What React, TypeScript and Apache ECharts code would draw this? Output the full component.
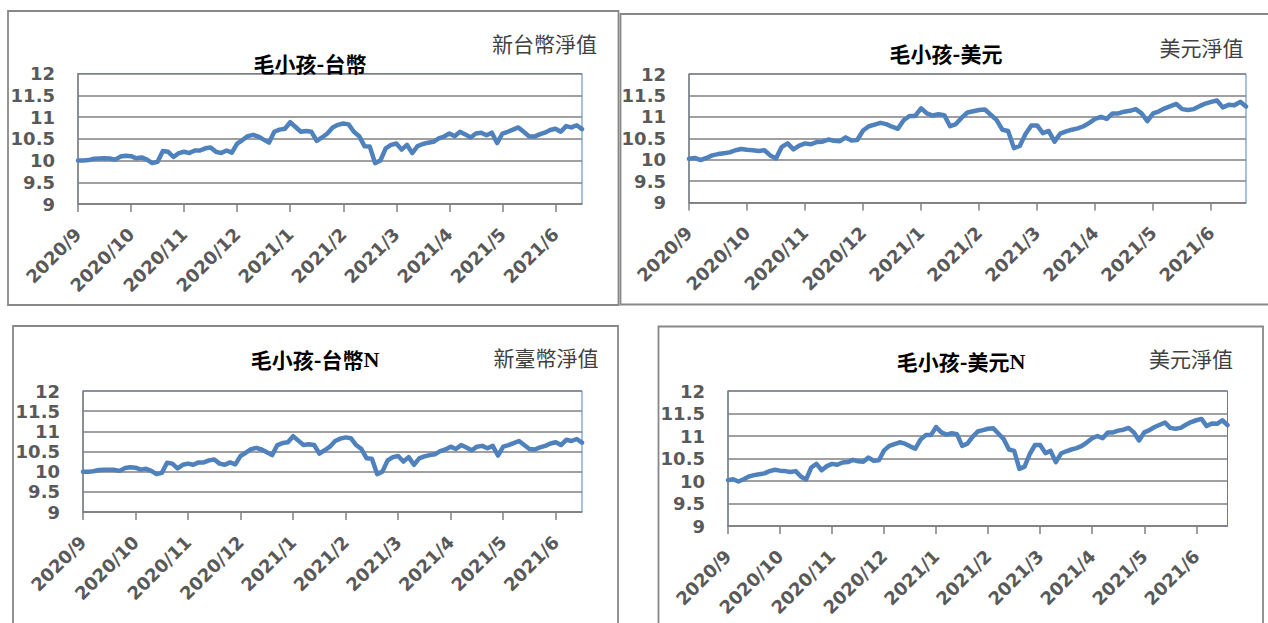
import React, { useEffect, useRef } from "react";
import * as echarts from "echarts";

// Month tick labels (x axis)
const monthLabels = ["2020/9", "2020/10", "2020/11", "2020/12", "2021/1", "2021/2", "2021/3", "2021/4", "2021/5", "2021/6"];
// Sampled days within each month (10 samples per month)
const sampleDays = [1, 4, 7, 10, 13, 16, 19, 22, 25, 28];

// NAV series
const navTWD = [
  10.0, 10.0, 10.01, 10.04, 10.045, 10.05, 10.045, 10.02, 10.09, 10.11,
  10.1, 10.05, 10.07, 10.02, 9.94, 9.97, 10.22, 10.2, 10.08, 10.17,
  10.2, 10.17, 10.23, 10.23, 10.28, 10.3, 10.2, 10.17, 10.23, 10.18,
  10.39, 10.47, 10.56, 10.59, 10.55, 10.48, 10.41, 10.66, 10.71, 10.73,
  10.88, 10.77, 10.66, 10.68, 10.66, 10.45, 10.53, 10.62, 10.76, 10.82,
  10.85, 10.83, 10.66, 10.56, 10.33, 10.32, 9.94, 10.0, 10.28, 10.36,
  10.39, 10.25, 10.36, 10.17, 10.33, 10.38, 10.41, 10.43, 10.51, 10.55,
  10.62, 10.56, 10.66, 10.6, 10.53, 10.62, 10.64, 10.58, 10.64, 10.4,
  10.62, 10.66, 10.71, 10.76, 10.66, 10.56, 10.55, 10.6, 10.64, 10.7,
  10.73, 10.66, 10.79, 10.76, 10.81, 10.72,
];
const navUSD = [
  10.02, 10.04, 9.99, 10.04, 10.1, 10.13, 10.15, 10.17, 10.22, 10.25,
  10.23, 10.22, 10.2, 10.22, 10.1, 10.03, 10.3, 10.38, 10.24, 10.33,
  10.38, 10.36, 10.41, 10.42, 10.47, 10.44, 10.43, 10.52, 10.45, 10.46,
  10.68, 10.78, 10.82, 10.86, 10.83, 10.77, 10.72, 10.92, 11.02, 11.02,
  11.2, 11.08, 11.03, 11.06, 11.04, 10.78, 10.83, 10.98, 11.1, 11.13,
  11.16, 11.17, 11.05, 10.93, 10.7, 10.67, 10.27, 10.32, 10.6, 10.8,
  10.8, 10.62, 10.67, 10.42, 10.61, 10.66, 10.7, 10.73, 10.78, 10.86,
  10.95, 11.0, 10.95, 11.08, 11.08, 11.12, 11.14, 11.18, 11.08, 10.9,
  11.08, 11.13, 11.2, 11.25, 11.3, 11.18, 11.16, 11.18, 11.25, 11.31,
  11.35, 11.38, 11.22, 11.28, 11.27, 11.35, 11.24,
];
const navTWDN = navTWD.slice();
const navUSDN = navUSD.slice();

const panelTitles = ["毛小孩-台幣", "毛小孩-美元", "毛小孩-台幣", "毛小孩-美元"];
const panelSuffix = ["", "", "N", "N"];
const panelUnits = ["新台幣淨值", "美元淨值", "新臺幣淨值", "美元淨值"];

const allDates: string[] = [];
monthLabels.forEach((m) => sampleDays.forEach((d) => allDates.push(m + "/" + d)));

const LINE = "#4F81BD";
const GRID = "#808080";
const LABEL = "#595959";
const FRAME = "#888888";

const grids = [
  { left: 78, top: 73.5, width: 504, height: 130.5 },
  { left: 689, top: 74, width: 557, height: 128.5 },
  { left: 83, top: 391, width: 499, height: 121 },
  { left: 728, top: 391, width: 499.5, height: 135 },
];
const frames = [
  { x: 8, y: 11, width: 610.5, height: 294 },
  { x: 620.5, y: 14, width: 680, height: 290.5 },
  { x: 13, y: 326, width: 605, height: 340 },
  { x: 658.5, y: 326.5, width: 604.5, height: 340 },
];
const titlePos = [
  [310, 63],
  [946, 53],
  [315, 359],
  [961, 361],
];
const unitPos = [
  [544.5, 43],
  [1201.5, 47],
  [546, 357],
  [1191, 358],
];

const seriesData = [navTWD, navUSD, navTWDN, navUSDN];

export default function App() {
  const ref = useRef<HTMLDivElement>(null);
  useEffect(() => {
    if (!ref.current) return;
    const chart = echarts.init(ref.current, null, { renderer: "svg" });
    const isMonthStart = (i: number) => i % sampleDays.length === 0;
    const xAxis = seriesData.map((d, gi) => ({
      type: "category",
      gridIndex: gi,
      data: allDates.slice(0, d.length),
      boundaryGap: false,
      axisLine: { show: true, lineStyle: { color: GRID, width: 1.5 } },
      axisTick: { show: true, interval: isMonthStart, length: 8, lineStyle: { color: GRID, width: 1.5 } },
      axisLabel: {
        interval: isMonthStart,
        rotate: 45,
        margin: 27,
        color: LABEL,
        fontWeight: "bold",
        fontSize: 18,
        fontFamily: "DejaVu Sans",
        formatter: (v: string) => v.split("/").slice(0, 2).join("/"),
      },
      splitLine: { show: false },
    }));
    const yAxis = seriesData.map((_, gi) => ({
      type: "value",
      gridIndex: gi,
      min: 9,
      max: 12,
      interval: 0.5,
      axisLine: { show: true, lineStyle: { color: GRID, width: 1.5 } },
      axisTick: { show: false },
      axisLabel: { margin: 23, color: LABEL, fontWeight: "bold", fontSize: 18, fontFamily: "DejaVu Sans" },
      splitLine: { show: true, lineStyle: { color: GRID, width: 1.5 } },
    }));
    const series = seriesData.map((d, gi) => ({
      type: "line",
      xAxisIndex: gi,
      yAxisIndex: gi,
      data: d,
      showSymbol: false,
      symbol: "none",
      lineStyle: { color: LINE, width: 4.5, join: "round", cap: "round" },
      z: 3,
    }));
    const graphic: any[] = [];
    frames.forEach((f) =>
      graphic.push({ type: "rect", shape: f, style: { fill: "none", stroke: FRAME, lineWidth: 1.8 }, silent: true })
    );
    titlePos.forEach((p, i) =>
      graphic.push({
        type: "text",
        x: p[0],
        y: p[1],
        style: {
          text: panelSuffix[i] ? `{a|${panelTitles[i]}}{n|${panelSuffix[i]}}` : `{a|${panelTitles[i]}}`,
          align: "center",
          verticalAlign: "middle",
          rich: {
            a: { fontFamily: "Noto Sans CJK TC", fontWeight: "bold", fontSize: 21, fill: "#000" },
            n: { fontFamily: "Liberation Serif", fontWeight: "bold", fontSize: 22, fill: "#000" },
          },
        },
        z: 10,
      })
    );
    unitPos.forEach((p, i) =>
      graphic.push({
        type: "text",
        x: p[0],
        y: p[1],
        style: {
          text: panelUnits[i],
          align: "center",
          verticalAlign: "middle",
          fontFamily: "Noto Sans CJK TC",
          fontSize: 21,
          fill: "#404040",
        },
        z: 10,
      })
    );
    chart.setOption({
      animation: false,
      backgroundColor: "#fff",
      grid: grids.map((g) => ({
        ...g,
        containLabel: false,
        outerBoundsMode: "none",
        show: true,
        borderColor: LINE,
        borderWidth: 1,
        backgroundColor: "transparent",
      })),
      xAxis,
      yAxis,
      series,
      graphic,
    });
    return () => chart.dispose();
  }, []);
  return (
    <div
      ref={ref}
      style={{ position: "fixed", left: 0, top: 0, width: 1268, height: 623, background: "#fff" }}
    />
  );
}
